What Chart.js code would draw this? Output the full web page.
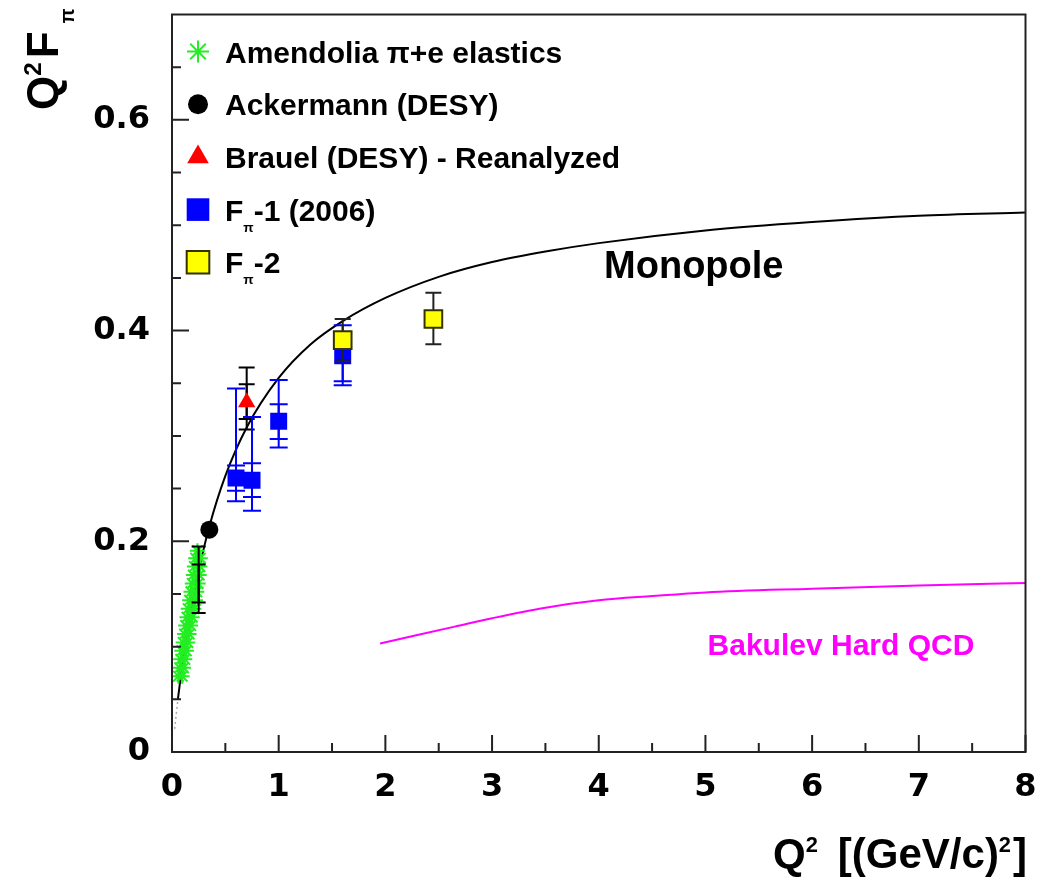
<!DOCTYPE html>
<html>
<head>
<meta charset="utf-8">
<title>Pion form factor</title>
<script src="https://cdn.jsdelivr.net/npm/chart.js@4.4.1/dist/chart.umd.min.js"></script>
<style>
  html, body { margin: 0; padding: 0; background: #fff; }
  #wrap { width: 1040px; height: 892px; }
</style>
</head>
<body>
<div id="wrap"><canvas id="ffChart" width="1040" height="892"></canvas></div>
<script>
// Amendolia pi+e elastics
const amendoliaQ2 = [0.060, 0.095, 0.072, 0.108, 0.082, 0.120, 0.092, 0.135, 0.105, 0.148, 0.118, 0.160,
                     0.128, 0.175, 0.140, 0.190, 0.152, 0.205, 0.165, 0.220, 0.178, 0.232, 0.190, 0.245,
                     0.200, 0.255, 0.210, 0.262, 0.222, 0.265, 0.238];
const amendoliaF = [0.072, 0.072, 0.080, 0.080, 0.088, 0.088, 0.096, 0.096, 0.104, 0.104, 0.112, 0.112,
                    0.120, 0.120, 0.128, 0.128, 0.136, 0.136, 0.144, 0.144, 0.152, 0.152, 0.160, 0.160,
                    0.168, 0.168, 0.176, 0.176, 0.184, 0.184, 0.191];

// black bars sitting under the Amendolia points
const lowQ2 = [0.25];
const lowF = [0.163];
const lowStatLo = [0.021], lowStatHi = [0.015];
const lowTotLo = [0.031], lowTotHi = [0.032];

// Ackermann (DESY)
const ackermannQ2 = [0.35];
const ackermannF = [0.211];

// Brauel (DESY) - reanalyzed
const brauelQ2 = [0.70];
const brauelF = [0.332];
const brauelStatLo = [0.016], brauelStatHi = [0.017];
const brauelTotLo = [0.026], brauelTotHi = [0.033];

// F_pi-1 (2006)
const fpi1Q2 = [0.60, 0.75, 1.00, 1.60];
const fpi1F = [0.260, 0.258, 0.314, 0.376];
const fpi1StatLo = [0.012, 0.016, 0.017, 0.024], fpi1StatHi = [0.012, 0.016, 0.016, 0.014];
const fpi1TotLo = [0.022, 0.029, 0.025, 0.028], fpi1TotHi = [0.085, 0.060, 0.039, 0.029];

// F_pi-2
const fpi2Q2 = [1.60, 2.45];
const fpi2F = [0.391, 0.411];
const fpi2ErrLo = [0.020, 0.024], fpi2ErrHi = [0.020, 0.025];

// monopole curve
const monoQ2 = [0.055, 0.1, 0.15, 0.2, 0.25, 0.35, 0.5, 0.7, 1.0, 1.3, 1.6, 2.0, 2.5, 3.0, 3.5, 4.0, 5.0, 6.0, 7.0, 8.0];
const monoF = [0.050, 0.085, 0.118, 0.147, 0.172, 0.214, 0.262, 0.308, 0.355, 0.387, 0.409, 0.431, 0.451, 0.465, 0.475, 0.483, 0.495, 0.503, 0.509, 0.512];
const monoTailQ2 = [0.025, 0.055];
const monoTailF = [0.022, 0.050];

// Bakulev hard QCD
const bakQ2 = [1.95, 2.3, 2.65, 3.0, 3.5, 4.0, 4.5, 5.0, 6.0, 7.0, 8.0];
const bakF = [0.103, 0.111, 0.119, 0.127, 0.137, 0.144, 0.148, 0.1515, 0.155, 0.158, 0.1605];

const xTicks = [0, 1, 2, 3, 4, 5, 6, 7, 8];
const yTicks = [0, 0.2, 0.4, 0.6];

const pts = (xs, ys) => xs.map((x, i) => ({ x: x, y: ys[i] }));

const TEXT_FONT = '"Liberation Sans", Arial, sans-serif';
const TICK_FONT = '"DejaVu Sans", sans-serif';

// draws a run list like [{t:'F'}, {t:'π', sub:true}] from x on baseline y
function drawRuns(ctx, runs, x, y, size, opt) {
  opt = opt || {};
  const subScale = opt.subScale || 0.45, supScale = opt.supScale || 0.55;
  const sizeOf = r => (r.sub ? size * subScale : r.sup ? size * supScale : size);
  const widths = runs.map(r => {
    ctx.font = 'bold ' + sizeOf(r) + 'px ' + TEXT_FONT;
    return ctx.measureText(r.t).width + (r.gap || 0);
  });
  const total = widths.reduce((a, b) => a + b, 0);
  let cx = opt.align === 'right' ? x - total : x;
  runs.forEach((r, i) => {
    ctx.font = 'bold ' + sizeOf(r) + 'px ' + TEXT_FONT;
    const dy = r.sub ? size * 0.37 : r.sup ? -size * 0.38 : 0;
    ctx.fillText(r.t, cx, y + dy);
    cx += widths[i];
  });
  return total;
}

// vertical error bars, drawn just before each dataset's markers
const errorBars = {
  id: 'errorBars',
  beforeDatasetDraw(chart, args) {
    const ds = chart.data.datasets[args.index];
    if (!ds.errBars) return;
    const { ctx, scales: { x, y } } = chart;
    ctx.save();
    ctx.lineWidth = 2;
    ds.errBars.forEach(bar => {
      ctx.strokeStyle = bar.color;
      ds.data.forEach((p, i) => {
        const px = x.getPixelForValue(p.x);
        const top = y.getPixelForValue(p.y + bar.hi[i]);
        const bot = y.getPixelForValue(p.y - bar.lo[i]);
        ctx.beginPath();
        ctx.moveTo(px, top); ctx.lineTo(px, bot);
        ctx.moveTo(px - bar.cap, top); ctx.lineTo(px + bar.cap, top);
        ctx.moveTo(px - bar.cap, bot); ctx.lineTo(px + bar.cap, bot);
        ctx.stroke();
      });
    });
    ctx.restore();
  }
};

// box, inward ticks, legend, curve labels and axis titles
const decorations = {
  id: 'decorations',
  afterDraw(chart) {
    const { ctx, chartArea: a, scales: { x, y } } = chart;
    ctx.save();
    ctx.strokeStyle = '#222';
    ctx.lineWidth = 2;
    ctx.strokeRect(a.left, a.top, a.right - a.left, a.bottom - a.top);

    ctx.beginPath();
    for (let i = 0; i <= 16; i++) {
      const px = x.getPixelForValue(i * 0.5);
      const len = i % 2 === 0 ? 17 : 9;
      ctx.moveTo(px, a.bottom); ctx.lineTo(px, a.bottom - len);
    }
    for (let i = 0; i <= 13; i++) {
      const py = y.getPixelForValue(i * 0.05);
      const len = i % 4 === 0 ? 17 : 9;
      ctx.moveTo(a.left, py); ctx.lineTo(a.left + len, py);
    }
    ctx.stroke();

    // legend
    const items = [
      { ds: 2, runs: [{ t: 'Amendolia π+e elastics' }], r: 11 },
      { ds: 4, runs: [{ t: 'Ackermann (DESY)' }], r: 10 },
      { ds: 5, runs: [{ t: 'Brauel (DESY) - Reanalyzed' }], r: 12.5 },
      { ds: 6, runs: [{ t: 'F' }, { t: 'π', sub: true }, { t: '-1 (2006)' }], r: 16 },
      { ds: 7, runs: [{ t: 'F' }, { t: 'π', sub: true }, { t: '-2' }], r: 16 }
    ];
    items.forEach((it, k) => {
      const ds = chart.data.datasets[it.ds];
      const cy = a.top + 37 + k * 52.7;
      const mx = a.left + 26;
      ctx.fillStyle = ds.backgroundColor;
      ctx.strokeStyle = ds.borderColor;
      ctx.lineWidth = ds.borderWidth;
      Chart.helpers.drawPoint(ctx, { pointStyle: ds.pointStyle, radius: it.r, rotation: 0, borderWidth: ds.borderWidth }, mx, cy);
      ctx.fillStyle = '#000';
      ctx.textBaseline = 'alphabetic';
      ctx.textAlign = 'left';
      drawRuns(ctx, it.runs, a.left + 53, cy + 11, 30);
    });

    // curve labels
    ctx.fillStyle = '#000';
    ctx.font = 'bold 38px ' + TEXT_FONT;
    ctx.fillText('Monopole', x.getPixelForValue(4.05), y.getPixelForValue(0.450));
    ctx.fillStyle = '#ff00ff';
    ctx.font = 'bold 30px ' + TEXT_FONT;
    ctx.fillText('Bakulev Hard QCD', x.getPixelForValue(5.02), y.getPixelForValue(0.092));

    // x title
    ctx.fillStyle = '#000';
    drawRuns(ctx, [{ t: 'Q' }, { t: '2', sup: true, gap: 20 }, { t: '[(GeV/c)' }, { t: '2', sup: true, gap: 2 }, { t: ']' }],
      1027, 868, 42, { supScale: 0.52, align: 'right' });

    // y title, read bottom to top
    ctx.translate(58, 110);
    ctx.rotate(-Math.PI / 2);
    drawRuns(ctx, [{ t: 'Q' }, { t: '2', sup: true, gap: 4 }, { t: 'F', gap: 8 }, { t: 'π', sub: true }], 0, 0, 44);
    ctx.restore();
  }
};

const tickFont = { family: TICK_FONT, weight: 'bold', size: 32 };

new Chart(document.getElementById('ffChart'), {
  type: 'scatter',
  data: {
    datasets: [
      {
        label: 'Monopole', data: pts(monoQ2, monoF), showLine: true, pointRadius: 0,
        borderColor: '#000', borderWidth: 2, cubicInterpolationMode: 'monotone', order: 9
      },
      {
        label: 'Bakulev Hard QCD', data: pts(bakQ2, bakF), showLine: true, pointRadius: 0,
        borderColor: '#ff00ff', borderWidth: 2, cubicInterpolationMode: 'monotone', order: 8
      },
      {
        label: 'Amendolia', data: pts(amendoliaQ2, amendoliaF), pointStyle: 'star', pointRadius: 7.5,
        borderColor: '#22ee22', backgroundColor: '#22ee22', borderWidth: 2, order: 6
      },
      {
        label: 'low Q2 bars', data: pts(lowQ2, lowF), pointRadius: 0, order: 5,
        errBars: [
          { lo: lowTotLo, hi: lowTotHi, color: '#000', cap: 7 },
          { lo: lowStatLo, hi: lowStatHi, color: '#000', cap: 7 }
        ]
      },
      {
        label: 'Ackermann', data: pts(ackermannQ2, ackermannF), pointStyle: 'circle', pointRadius: 9,
        backgroundColor: '#000', borderColor: '#000', borderWidth: 0, order: 4
      },
      {
        label: 'Brauel', data: pts(brauelQ2, brauelF), pointStyle: 'triangle', pointRadius: 10,
        backgroundColor: '#ff0000', borderColor: '#ff0000', borderWidth: 0, order: 3,
        errBars: [
          { lo: brauelTotLo, hi: brauelTotHi, color: '#000', cap: 8 },
          { lo: brauelStatLo, hi: brauelStatHi, color: '#000', cap: 8 }
        ]
      },
      {
        label: 'Fpi-1', data: pts(fpi1Q2, fpi1F), pointStyle: 'rect', pointRadius: 12,
        backgroundColor: '#0000ff', borderColor: '#0000ff', borderWidth: 0, order: 2,
        errBars: [
          { lo: fpi1TotLo, hi: fpi1TotHi, color: '#0000ff', cap: 9 },
          { lo: fpi1StatLo, hi: fpi1StatHi, color: '#0000ff', cap: 9 }
        ]
      },
      {
        label: 'Fpi-2', data: pts(fpi2Q2, fpi2F), pointStyle: 'rect', pointRadius: 12.5,
        backgroundColor: '#ffff00', borderColor: '#333300', borderWidth: 2, order: 1,
        errBars: [{ lo: fpi2ErrLo, hi: fpi2ErrHi, color: '#222', cap: 8 }]
      },
      {
        label: 'Monopole tail', data: pts(monoTailQ2, monoTailF), showLine: true, pointRadius: 0,
        borderColor: '#aaa', borderWidth: 1.5, borderDash: [2, 3], order: 10
      }
    ]
  },
  options: {
    responsive: false,
    animation: false,
    events: [],
    layout: { padding: { top: 8, right: 10, left: 0, bottom: 0 } },
    plugins: { legend: { display: false }, tooltip: { enabled: false } },
    scales: {
      x: {
        type: 'linear', min: 0, max: 8,
        afterBuildTicks: s => { s.ticks = xTicks.map(v => ({ value: v })); },
        afterFit: s => { s.height = 140; s.paddingLeft = 0; s.paddingRight = 0; },
        grid: { display: false, drawTicks: false },
        border: { display: false },
        ticks: { color: '#000', font: tickFont, padding: 16, maxRotation: 0, autoSkip: false }
      },
      y: {
        type: 'linear', min: 0, max: 0.7,
        afterBuildTicks: s => { s.ticks = yTicks.map(v => ({ value: v })); },
        afterFit: s => { s.width = 172; s.paddingTop = 0; s.paddingBottom = 0; },
        grid: { display: false, drawTicks: false },
        border: { display: false },
        ticks: {
          color: '#000', font: tickFont, padding: 22, autoSkip: false,
          callback: v => (v === 0 ? '0' : v.toFixed(1))
        }
      }
    }
  },
  plugins: [errorBars, decorations]
});
</script>
</body>
</html>
